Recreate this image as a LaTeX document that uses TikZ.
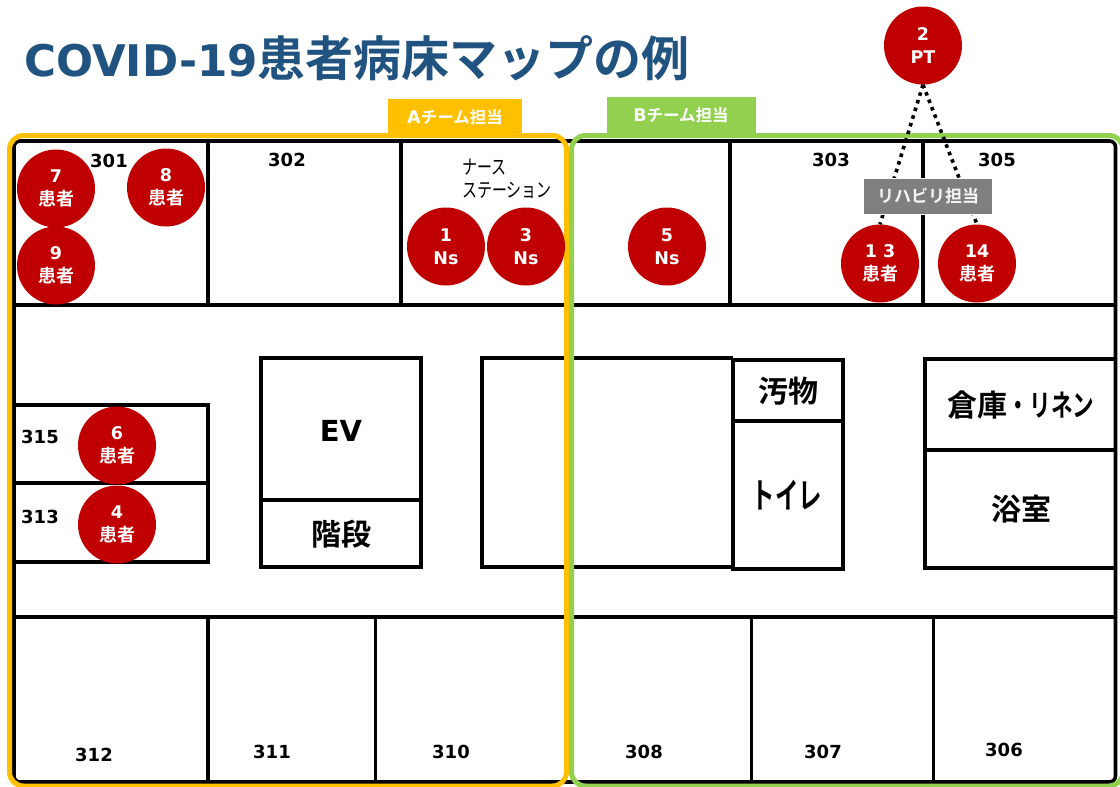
\documentclass[tikz,border=0pt]{standalone}
\usepackage{fontspec}
\setmainfont{Noto Sans CJK JP}[BoldFont={Noto Sans CJK JP Bold}]
\newfontfamily\latinb{DejaVu Sans}[BoldFont={DejaVu Sans Bold}]
\newcommand{\dg}[1]{{\latinb\fontsize{17.5}{23}\selectfont #1}}
\newcommand{\kn}[2][0.78]{\scalebox{#1}[1]{#2}}
\definecolor{tealtitle}{HTML}{215381}
\definecolor{patred}{HTML}{C00000}
\definecolor{teama}{HTML}{FFC000}
\definecolor{teamb}{HTML}{92D050}
\definecolor{labgray}{HTML}{7F7F7F}
\tikzset{
  x=1pt,y=-1pt,
  wall/.style={draw=black,line width=3.6pt},
  person/.style={circle,fill=patred,draw=none,minimum size=78pt,inner sep=0pt,text=white,font=\fontsize{18}{23}\selectfont\bfseries,align=center},
  roomno/.style={font=\latinb\fontsize{18}{20}\selectfont\bfseries,text=black},
  big/.style={font=\fontsize{30}{34}\selectfont\bfseries,text=black},
  tabbox/.style={anchor=center,text=white,font=\fontsize{16.5}{20}\selectfont\bfseries,inner sep=0pt},
  dots/.style={draw=black,line width=3.6pt,dash pattern=on 3.6pt off 4.4pt},
  frame/.style={line width=5pt,rounded corners=14pt}
}
\begin{document}
\begin{tikzpicture}
\useasboundingbox (0,0) rectangle (1120,787);
\fill[white] (0,0) rectangle (1120,787);
% title
\node[anchor=west,inner sep=0pt,text=tealtitle,font=\fontsize{48}{52}\selectfont\bfseries] (title) at (24,58) {{\latinb\fontsize{43.6}{52}\selectfont COVID-19}患者病床マップの例};
% walls
\draw[wall,rounded corners=6pt] (14,141) rectangle (1115.5,782);
\draw[wall] (14,305) -- (1115.5,305);
\draw[wall] (14,617) -- (1115.5,617);
\foreach \x in {208,401,730,923}{\draw[wall] (\x,141) -- (\x,305);}
\foreach \x/\w in {208/3.6,375/3,751/3,933/3}{\draw[wall,line width=\w pt] (\x,617) -- (\x,782);}
\draw[wall] (14,405) -- (208,405) -- (208,562) -- (14,562);
\draw[wall] (14,483) -- (208,483);
\draw[wall] (261,358) rectangle (421,567);
\draw[wall] (261,500) -- (421,500);
\draw[wall] (566,358) -- (482,358) -- (482,567) -- (733,567);
\draw[wall] (566,358) -- (733,358);
\draw[wall] (733,360) rectangle (843,421);
\draw[wall] (733,421) rectangle (843,569);
\draw[wall] (925,359) rectangle (1115.5,568);
\draw[wall] (925,450) -- (1115.5,450);
% team frames
\draw[teamb,frame] (571.5,135.5) rectangle (1123,786);
\draw[teama,frame] (9.5,135.5) rectangle (566.5,786);
\fill[teama] (388,99) rectangle (522,134);
\node[tabbox] (taba) at (455,117) {\dg{A}チーム担当};
\fill[teamb] (607,97) rectangle (756,134);
\node[tabbox] (tabb) at (681,115) {\dg{B}チーム担当};
% people
\node[person] (p2) at (923,45.5) {\dg{2}\\\dg{PT}};
\node[person] (p13) at (880,263.5) {\dg{1 3}\\患者};
\node[person] (p14) at (977,263.5) {\dg{14}\\患者};
\draw[dots] (p2.south) -- (p13.north);
\draw[dots] (p2.south) -- (p14.north);
\node[person] (p7) at (56,188.5) {\dg{7}\\患者};
\node[person] (p8) at (166,187.5) {\dg{8}\\患者};
\node[person] (p9) at (56,265.5) {\dg{9}\\患者};
\node[person] (p1) at (446,246.5) {\dg{1}\\\dg{Ns}};
\node[person] (p3) at (526,246.5) {\dg{3}\\\dg{Ns}};
\node[person] (p5) at (667,246.5) {\dg{5}\\\dg{Ns}};
\node[person] (p6) at (117,445.5) {\dg{6}\\患者};
\node[person] (p4) at (117,524.5) {\dg{4}\\患者};
% rehab label
\node[fill=labgray,draw=white,line width=1pt,minimum width=129pt,minimum height=36pt,inner sep=0pt,text=white!92!labgray,font=\fontsize{17}{20}\selectfont\bfseries] (rehab) at (928,196) {リハビリ担当};
% room numbers
\node[roomno] (r301) at (109,161) {301};
\node[roomno] (r302) at (287,160) {302};
\node[roomno] (r303) at (831,160) {303};
\node[roomno] (r305) at (997,160) {305};
\node[roomno] (r315) at (40,437) {315};
\node[roomno] (r313) at (40,517) {313};
\node[roomno] (r312) at (94,755) {312};
\node[roomno] (r311) at (272,752) {311};
\node[roomno] (r310) at (451,752) {310};
\node[roomno] (r308) at (644,752) {308};
\node[roomno] (r307) at (823,752) {307};
\node[roomno] (r306) at (1004,750) {306};
\node[anchor=north west,inner sep=0pt,align=left,font=\fontsize{20}{23}\selectfont,text=black] (ns) at (462,158.5) {\kn[0.75]{ナース}\\\kn[0.75]{ステーション}};
\node[big,font=\latinb\fontsize{29}{34}\selectfont\bfseries] (ev) at (341,431) {EV};
\node[big] (st) at (341,534) {階段};
\node[big] (wc) at (788,391) {汚物};
\node[big,font=\fontsize{35}{38}\selectfont\bfseries] (toilet) at (787,495) {\kn[0.67]{トイレ}};
\node[big] (linen) at (1021,405) {倉庫\kn[0.72]{・リネン}};
\node[big] (bath) at (1021,509) {浴室};
\end{tikzpicture}
\end{document}
